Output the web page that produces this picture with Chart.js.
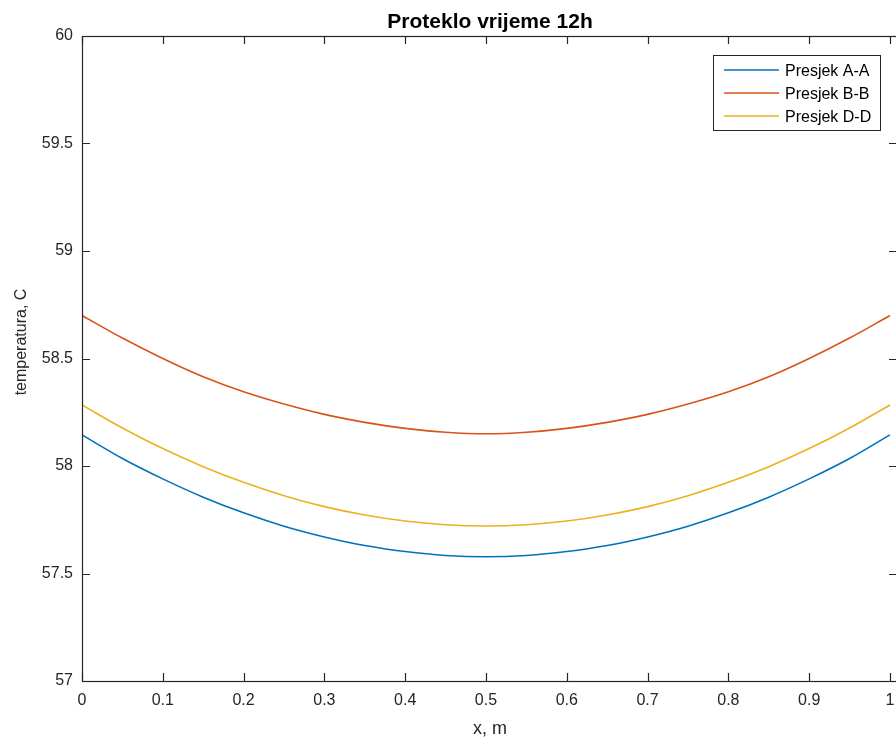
<!DOCTYPE html>
<html>
<head>
<meta charset="utf-8">
<script src="https://cdn.jsdelivr.net/npm/chart.js@4"></script>
<style>
  html, body { margin: 0; padding: 0; background: #fff; overflow: hidden; }
  #wrap { width: 898px; height: 738px; position: relative; }
</style>
</head>
<body>
<div id="wrap"><canvas id="chart"></canvas></div>
<script>
// Data
const xValues = [0, 0.05, 0.1, 0.15, 0.2, 0.25, 0.3, 0.35, 0.4, 0.45, 0.5,
                 0.55, 0.6, 0.65, 0.7, 0.75, 0.8, 0.85, 0.9, 0.95, 1];
const presjekAA = [58.145, 58.035, 57.940, 57.855, 57.782, 57.720, 57.670, 57.630, 57.602, 57.584, 57.578,
                   57.584, 57.602, 57.630, 57.670, 57.720, 57.782, 57.855, 57.940, 58.035, 58.145];
const presjekBB = [58.700, 58.595, 58.500, 58.415, 58.345, 58.288, 58.240, 58.203, 58.175, 58.157, 58.150,
                   58.157, 58.175, 58.203, 58.240, 58.288, 58.345, 58.415, 58.500, 58.595, 58.700];
const presjekDD = [58.284, 58.177, 58.081, 57.997, 57.924, 57.862, 57.811, 57.772, 57.744, 57.727, 57.721,
                   57.727, 57.744, 57.772, 57.811, 57.862, 57.924, 57.997, 58.081, 58.177, 58.284];
const seriesNames = ['Presjek A-A', 'Presjek B-B', 'Presjek D-D'];
const xTicks = [0, 0.1, 0.2, 0.3, 0.4, 0.5, 0.6, 0.7, 0.8, 0.9, 1];
const yTicks = [57, 57.5, 58, 58.5, 59, 59.5, 60];

const FONT = '"Liberation Sans", Arial, sans-serif';
const INK = '#262626';
const colors = ['#0072BD', '#D95319', '#EDB120'];

function toPoints(ys) {
  return xValues.map((x, i) => ({x: x, y: ys[i]}));
}

// Box frame, inward ticks, titles and legend (MATLAB look)
const matlabFrame = {
  id: 'matlabFrame',
  afterDraw(chart) {
    const ctx = chart.ctx;
    const a = chart.chartArea;
    const xs = chart.scales.x, ys = chart.scales.y;
    const tl = 8;
    ctx.save();
    ctx.strokeStyle = INK;
    ctx.lineWidth = 1.2;
    ctx.strokeRect(a.left + 0.5, a.top + 0.5, a.right - a.left, a.bottom - a.top);
    ctx.beginPath();
    xTicks.forEach(v => {
      const px = Math.round(xs.getPixelForValue(v)) + 0.5;
      ctx.moveTo(px, a.bottom); ctx.lineTo(px, a.bottom - tl);
      ctx.moveTo(px, a.top); ctx.lineTo(px, a.top + tl);
    });
    yTicks.forEach(v => {
      const py = Math.round(ys.getPixelForValue(v)) + 0.5;
      ctx.moveTo(a.left, py); ctx.lineTo(a.left + tl, py);
      ctx.moveTo(a.right, py); ctx.lineTo(a.right - tl, py);
    });
    ctx.stroke();

    // title
    ctx.fillStyle = '#000';
    ctx.font = 'bold 21px ' + FONT;
    ctx.textAlign = 'center';
    ctx.textBaseline = 'alphabetic';
    ctx.fillText('Proteklo vrijeme 12h', 490, 28);

    // axis titles
    ctx.fillStyle = INK;
    ctx.font = '18px ' + FONT;
    ctx.fillText('x, m', 490, 734);
    ctx.font = '16px ' + FONT;
    ctx.save();
    ctx.translate(26, 342);
    ctx.rotate(-Math.PI / 2);
    ctx.fillText('temperatura, C', 0, 0);
    ctx.restore();

    // legend
    const lx = 713, ly = 55, lw = 167, lh = 75;
    ctx.fillStyle = '#fff';
    ctx.fillRect(lx, ly, lw, lh);
    ctx.strokeStyle = INK;
    ctx.lineWidth = 1;
    ctx.strokeRect(lx + 0.5, ly + 0.5, lw, lh);
    ctx.font = '16px ' + FONT;
    ctx.textAlign = 'left';
    chart.data.datasets.forEach((ds, i) => {
      const yy = ly + 15 + i * 23;
      ctx.strokeStyle = ds.borderColor;
      ctx.lineWidth = 1.5;
      ctx.beginPath();
      ctx.moveTo(lx + 11, yy); ctx.lineTo(lx + 66, yy);
      ctx.stroke();
      ctx.fillStyle = '#000';
      ctx.fillText(ds.label, lx + 72, yy + 6);
    });
    ctx.restore();
  }
};

const ctx = document.getElementById('chart').getContext('2d');
new Chart(ctx, {
  type: 'line',
  data: {
    datasets: [presjekAA, presjekBB, presjekDD].map((ys, i) => ({
      label: seriesNames[i],
      data: toPoints(ys),
      borderColor: colors[i],
      backgroundColor: colors[i],
      borderWidth: 1.6,
      pointRadius: 0,
      cubicInterpolationMode: 'monotone',
      fill: false
    }))
  },
  options: {
    responsive: true,
    maintainAspectRatio: false,
    animation: false,
    layout: { padding: { top: 36, right: 1, left: 0, bottom: 0 } },
    plugins: {
      legend: { display: false },
      title: { display: false },
      tooltip: { enabled: false }
    },
    scales: {
      x: {
        type: 'linear',
        min: 0,
        max: 1.0087,
        afterBuildTicks: s => { s.ticks = xTicks.map(v => ({value: v})); },
        afterFit: s => { s.height = 57; s.paddingRight = 0; s.paddingLeft = 0; },
        grid: { display: false, drawTicks: false },
        border: { display: false },
        ticks: {
          padding: 10,
          color: INK,
          font: { family: FONT, size: 16 },
          maxRotation: 0,
          autoSkip: false,
          callback: v => String(Math.round(v * 10) / 10)
        }
      },
      y: {
        type: 'linear',
        min: 57,
        max: 60,
        afterBuildTicks: s => { s.ticks = yTicks.map(v => ({value: v})); },
        afterFit: s => { s.width = 82; },
        grid: { display: false, drawTicks: false },
        border: { display: false },
        ticks: {
          padding: 9,
          color: INK,
          font: { family: FONT, size: 16 },
          autoSkip: false,
          callback: v => String(v)
        }
      }
    }
  },
  plugins: [matlabFrame]
});
</script>
</body>
</html>
